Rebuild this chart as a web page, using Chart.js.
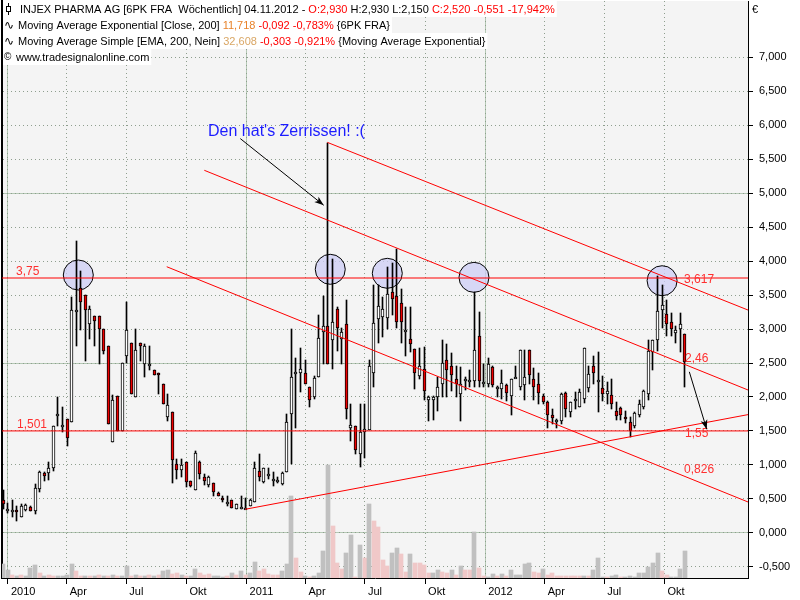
<!DOCTYPE html>
<html>
<head>
<meta charset="utf-8">
<script src="https://cdn.jsdelivr.net/npm/chart.js@4.4.0/dist/chart.umd.min.js"></script>
<style>
  html, body { margin: 0; padding: 0; background: #fff; overflow: hidden; }
  canvas { display: block; }
</style>
</head>
<body>
<canvas id="chart" width="800" height="600"></canvas>
<script>
// weekly candles, first week ends 27.12.2009, last week 04.11.2012
const opens = [0.48,0.36,0.34,0.34,0.24,0.34,0.38,0.33,0.64,0.88, 0.88,0.96,1.75,1.59,1.67,1.63,3.28,3.61,3.50,3.07,
  3.19,3.19,3.00,2.75,1.34,2.02,1.50,2.60,2.79,2.00, 2.79,2.49,2.49,2.40,2.35,2.19,1.71,1.78,1.02,0.93,
  1.05,0.76,0.63,1.05,0.83,0.70,0.74,0.59,0.51,0.45, 0.48,0.35,0.38,0.37,0.40,0.46,0.91,0.75,0.87,0.79,
  0.78,0.72,0.89,1.75,2.37,2.35,2.35,2.14,2.00,2.30, 2.95,3.05,2.84,3.29,2.85,3.08,1.54,1.58,1.16,1.48,
  1.51,2.35,3.15,3.18,3.16,3.55,3.49,3.38,2.99,2.85, 2.71,2.31,2.41,1.96,1.96,2.00,2.19,2.54,2.45,2.27,
  2.04,2.27,2.25,2.24,2.90,2.22,2.19,2.44,2.15,2.12, 2.17,2.02,2.29,2.15,2.17,2.69,2.27,2.19,2.02,1.93,
  1.73,1.66,1.65,2.06,1.78,1.97,1.86,1.97,2.13,2.45, 2.25,2.13,2.04,2.03,1.80,1.84,1.71,1.63,1.58,1.73,
  1.85,2.04,2.66,2.84,3.28,3.22,3.10,2.94,3.00,2.93];
const highs = [0.63,0.44,0.49,0.40,0.42,0.42,0.39,0.72,0.91,0.89, 1.04,1.58,2.00,1.85,1.67,3.47,4.30,3.86,3.50,3.34,
  3.19,3.19,3.00,2.75,2.03,2.02,2.50,3.40,2.79,3.00, 2.80,2.78,2.75,2.40,2.36,2.19,2.04,1.78,1.09,1.09,
  1.05,0.76,1.20,1.06,0.87,0.84,0.74,0.61,0.55,0.55, 0.49,0.43,0.55,0.52,0.50,1.04,1.16,0.96,0.95,0.89,
  0.83,0.89,1.75,3.00,2.58,2.72,2.54,2.14,2.31,3.21, 3.48,5.74,4.03,3.33,3.01,3.42,1.89,1.58,1.89,1.89,
  2.54,3.64,3.64,3.47,3.91,3.97,4.18,3.59,3.32,3.33, 2.71,2.72,2.73,2.01,2.01,2.29,2.84,2.78,2.64,2.45,
  2.44,2.29,2.39,3.55,3.25,2.49,2.58,2.45,2.16,2.39, 2.19,2.26,2.46,2.69,2.69,2.69,2.43,2.36,2.04,1.94,
  1.82,1.68,2.06,2.07,1.92,2.07,2.12,2.72,2.45,2.61, 2.66,2.31,2.22,2.27,1.93,1.86,1.79,1.70,1.78,1.96,
  2.10,2.84,2.84,3.78,3.64,3.42,3.23,3.05,3.23,2.93];
const lows = [0.35,0.30,0.23,0.18,0.23,0.33,0.32,0.28,0.60,0.77, 0.78,0.91,1.58,1.48,1.28,1.63,2.75,2.99,2.53,2.85,
  2.75,2.49,2.63,1.60,1.34,1.50,1.50,2.50,2.04,2.00, 2.53,2.29,2.39,2.32,2.04,1.89,1.65,0.74,0.79,0.82,
  0.68,0.68,0.63,0.79,0.70,0.68,0.55,0.54,0.45,0.40, 0.37,0.35,0.36,0.35,0.39,0.46,0.77,0.73,0.79,0.69,
  0.73,0.71,0.89,1.02,1.54,2.08,2.19,1.85,1.97,2.30, 2.49,2.49,2.41,2.68,2.49,1.68,1.36,1.16,0.97,1.11,
  1.51,2.14,2.80,2.88,3.00,3.20,3.02,2.79,2.60,2.66, 2.12,2.26,1.95,1.65,1.66,1.80,2.00,2.00,2.09,2.00,
  1.65,2.10,2.14,2.14,2.14,2.14,2.14,2.14,2.00,1.97, 1.94,1.73,2.28,2.10,1.96,2.19,1.96,1.90,1.89,1.54,
  1.60,1.55,1.60,1.71,1.71,1.82,1.85,1.91,2.07,2.19, 1.78,1.94,1.90,1.82,1.66,1.66,1.62,1.41,1.55,1.71,
  1.82,1.95,2.39,2.68,3.02,2.89,2.90,2.79,2.66,2.15];
const closes = [0.43,0.36,0.34,0.31,0.40,0.41,0.33,0.66,0.89,0.84, 0.96,1.57,1.75,1.59,1.40,3.28,3.28,3.39,3.28,3.29,
  3.12,3.00,2.68,1.60,1.95,1.50,2.50,2.99,2.04,2.69, 2.75,2.75,2.49,2.32,2.32,1.90,1.88,1.07,0.93,1.00,
  0.75,0.69,1.18,0.87,0.76,0.83,0.60,0.55,0.48,0.45, 0.37,0.43,0.38,0.37,0.48,0.96,0.83,0.96,0.87,0.79,
  0.78,0.88,1.63,2.29,2.37,2.41,2.19,1.95,2.28,2.87, 3.05,2.49,3.10,3.01,2.96,1.82,1.59,1.22,1.48,1.53,
  2.45,3.09,3.34,3.29,3.51,3.44,3.11,3.10,2.99,2.78, 2.36,2.46,2.09,2.00,2.00,2.15,2.50,2.40,2.32,2.19,
  2.19,2.27,2.25,2.69,2.24,2.22,2.49,2.17,2.15,2.21, 2.06,2.26,2.29,2.69,2.29,2.32,2.14,2.06,1.92,1.74,
  1.69,1.66,2.04,1.82,1.92,1.97,2.08,2.72,2.34,2.35, 2.25,2.04,2.09,1.90,1.72,1.74,1.68,1.50,1.77,1.90,
  2.09,2.68,2.84,3.27,3.36,3.07,3.00,2.99,3.08,2.52];
// volume pane (relative units) and bar tone: g = grey, p = pink
const volumes = [14,8,3,2,3,2,10,13,5,2, 3,2,2,2,3,14,7,2,2,2, 2,3,2,2,3,2,2,12,2,3,
  2,2,3,2,3,7,8,4,5,3, 2,2,9,5,3,4,2,2,1,2, 5,3,7,3,5,16,7,9,4,3,
  3,7,14,82,20,6,2,1,2,5, 27,113,52,15,9,25,43,1,33,20, 74,57,51,18,12,25,30,24,6,24,
  15,15,13,5,5,8,6,5,8,3, 12,8,8,46,10,2,1,4,2,4, 2,8,3,3,14,15,6,5,9,3,
  5,2,2,2,2,2,2,2,2,8, 20,1,1,2,3,1,1,2,1,5, 5,11,15,25,7,3,1,1,9,27];
const volumeTone = ('ggpgpgggpg' + 'ppggggppgp' + 'gpgpgpggpg' + 'pgpgpggppg' + 'pggpppgggp' +
  'gpgpggpppp' + 'pgggppgpgg' + 'ggpppggpgp' + 'gppppggppg' + 'ppppggppgp' + 'gppgppggpg' +
  'pgggggppgp' + 'pppppppgpg' + 'ggpggpgggg' + 'ggggppgggg').split('');

// quarter ticks of the time axis
const tickMonths = [[2010,0],[2010,3],[2010,6],[2010,9],[2011,0],[2011,3],[2011,6],[2011,9],[2012,0],[2012,3],[2012,6],[2012,9]];
const monthNames = ['2010','Apr','Jul','Okt'];
const firstWeek = Date.UTC(2009, 11, 27);
const tickPos = tickMonths.map(([yr, m]) => (Date.UTC(yr, m, 1) - firstWeek) / 864e5 / 7 + 0.35);
const tickLabels = tickMonths.map(([yr, m]) => m === 0 ? String(yr) : monthNames[m / 3]);

const priceTicks = [];
for (let v = -0.5; v <= 7; v += 0.5) priceTicks.push(v);

// drawn trend lines [week, price]
const resistance = 3.75;
const supportLevel = 1.501;
const upperChannel = [[70.86, 5.745], [162.77, 3.279]];
const midChannel = [[43.98, 5.334], [162.77, 2.103]];
const lowerChannel = [[35.77, 3.916], [162.77, 0.456]];
const risingLine = [[52.94, 0.349], [162.77, 1.741]];
// marked tops
const circleTops = [[16.45, 3.794], [71.5, 3.878], [83.96, 3.819], [102.9, 3.76], [144.0, 3.71]];

const X_MIN = -0.22, X_MAX = 162.77;
const Y_MIN = -0.662, Y_MAX = 7.824;

const lineLabels = [
  { text: '3,75', x: 2.84, y: 3.85 },
  { text: '1,501', x: 3.06, y: 1.60 },
  { text: '3,617', x: 148.8, y: 3.72 },
  { text: '2,46', x: 149.0, y: 2.57 },
  { text: '1,55', x: 149.0, y: 1.46 },
  { text: '0,826', x: 148.8, y: 0.93 }
];
const comment = { text: "Den hat's Zerrissen! :(", x: 44.8, y: 5.91 };
const arrows = [[[51.85, 5.80], [70.07, 4.82]], [[149.95, 2.37], [153.75, 1.525]]];

const RED = '#ff0000';
const FONT = '"Liberation Sans", Arial, sans-serif';
const DOTS = '#8e9e8e';
Chart.defaults.font.family = FONT;
Chart.defaults.font.size = 11;
Chart.defaults.color = '#000';

const idx = opens.map((_, i) => i);
const seg = pts => pts.map(([x, y]) => ({ x, y }));

const zeroPad = s => { s.paddingTop = 0; s.paddingBottom = 0; s.paddingLeft = 0; s.paddingRight = 0; };

const backdrop = {
  id: 'backdrop',
  beforeDraw(chart) {
    const { ctx, chartArea: a } = chart;
    ctx.save();
    ctx.fillStyle = '#fff';
    ctx.fillRect(0, 0, chart.width, chart.height);
    ctx.fillStyle = '#f4f4f4';
    ctx.fillRect(a.left, a.top, a.right - a.left, a.bottom - a.top);
    ctx.restore();
  }
};

// snap bar edges to whole pixels so the candles stay crisp
const snapBars = {
  id: 'snapBars',
  afterDatasetsUpdate(chart) {
    chart.data.datasets.forEach((ds, i) => {
      const meta = chart.getDatasetMeta(i);
      if (meta.type !== 'bar') return;
      meta.data.forEach(el => {
        const w = Math.round(el.width);
        el.width = w;
        el.x = w % 2 ? Math.floor(el.x) + 0.5 : Math.round(el.x);
        el.y = Math.round(el.y);
        el.base = Math.round(el.base);
      });
    });
  }
};

function drawArrow(ctx, x1, y1, x2, y2) {
  const ang = Math.atan2(y2 - y1, x2 - x1);
  ctx.beginPath();
  ctx.moveTo(x1, y1);
  ctx.lineTo(x2, y2);
  ctx.stroke();
  ctx.beginPath();
  ctx.moveTo(x2, y2);
  ctx.lineTo(x2 - 10 * Math.cos(ang - 0.35), y2 - 10 * Math.sin(ang - 0.35));
  ctx.lineTo(x2 - 7 * Math.cos(ang), y2 - 7 * Math.sin(ang));
  ctx.lineTo(x2 - 10 * Math.cos(ang + 0.35), y2 - 10 * Math.sin(ang + 0.35));
  ctx.closePath();
  ctx.fill();
}

const notes = {
  id: 'notes',
  afterDatasetsDraw(chart) {
    const { ctx, scales: { x, y } } = chart;
    ctx.save();
    ctx.textBaseline = 'middle';
    ctx.font = '12px ' + FONT;
    ctx.fillStyle = '#ff3030';
    lineLabels.forEach(l => ctx.fillText(l.text, x.getPixelForValue(l.x), y.getPixelForValue(l.y)));
    ctx.font = '16px ' + FONT;
    ctx.fillStyle = '#1c1cff';
    ctx.fillText(comment.text, x.getPixelForValue(comment.x), y.getPixelForValue(comment.y));
    ctx.strokeStyle = '#000';
    ctx.fillStyle = '#000';
    ctx.lineWidth = 1;
    arrows.forEach(([a, b]) => drawArrow(ctx, x.getPixelForValue(a[0]), y.getPixelForValue(a[1]),
      x.getPixelForValue(b[0]), y.getPixelForValue(b[1])));
    ctx.restore();
  }
};

const headerRows = [
  [['INJEX PHARMA AG [6PK FRA  Wöchentlich] 04.11.2012 - ', '#000'], ['O:2,930', RED], [' H:2,930 L:2,150 ', '#000'], ['C:2,520 -0,551 -17,942%', RED]],
  [['Moving Average Exponential [Close, 200] ', '#000'], ['11,718', '#e8822a'], [' -0,092 -0,783%', RED], [' {6PK FRA}', '#000']],
  [['Moving Average Simple [EMA, 200, Nein] ', '#000'], ['32,608', '#d9a664'], [' -0,303 -0,921%', RED], [' {Moving Average Exponential}', '#000']],
  [['www.tradesignalonline.com', '#000']]
];

const header = {
  id: 'header',
  afterDraw(chart) {
    const { ctx } = chart;
    ctx.save();
    ctx.font = '11px ' + FONT;
    ctx.textBaseline = 'alphabetic';
    const starts = [20, 18, 18, 16];
    headerRows.forEach((row, r) => {
      const top = 1 + r * 16;
      let w = starts[r];
      row.forEach(([t]) => { w += ctx.measureText(t).width; });
      ctx.fillStyle = '#fff';
      ctx.fillRect(3, top, w - 1, 16);
      let xPos = starts[r];
      row.forEach(([t, c]) => {
        ctx.fillStyle = c;
        ctx.fillText(t, xPos, top + 12);
        xPos += ctx.measureText(t).width;
      });
    });
    // row icons
    ctx.strokeStyle = '#000';
    ctx.lineWidth = 1;
    ctx.strokeRect(6.5, 6.5, 4, 5);
    ctx.beginPath();
    ctx.moveTo(8.5, 3); ctx.lineTo(8.5, 6.5);
    ctx.moveTo(8.5, 11.5); ctx.lineTo(8.5, 15);
    ctx.stroke();
    ctx.fillStyle = '#000';
    ctx.font = '12px "DejaVu Sans", sans-serif';
    ctx.fillText('\u223F', 4, 29);
    ctx.fillText('\u223F', 4, 45);
    ctx.font = '10px ' + FONT;
    ctx.fillText('\u00A9', 4, 60);
    ctx.font = '11px ' + FONT;
    ctx.fillText('\u20AC', 752, 13);
    ctx.restore();
  }
};

new Chart(document.getElementById('chart'), {
  type: 'bar',
  data: {
    datasets: [
      {
        type: 'line', order: 1, xAxisID: 'x', yAxisID: 'y',
        data: seg([[X_MIN, resistance], [X_MAX, resistance]]),
        borderColor: RED, borderWidth: 1, pointRadius: 0
      },
      {
        type: 'line', order: 1, xAxisID: 'x', yAxisID: 'y',
        data: seg([[X_MIN, supportLevel], [X_MAX, supportLevel]]),
        borderColor: RED, borderWidth: 1, pointRadius: 0
      },
      ...[upperChannel, midChannel, lowerChannel, risingLine].map(l => ({
        type: 'line', order: 1, xAxisID: 'x', yAxisID: 'y',
        data: seg(l), borderColor: RED, borderWidth: 1, pointRadius: 0
      })),
      {
        label: 'body', order: 4, xAxisID: 'x', yAxisID: 'y',
        data: idx.map(i => ({ x: i, y: [Math.min(opens[i], closes[i]), Math.max(opens[i], closes[i])] })),
        backgroundColor: idx.map(i => closes[i] >= opens[i] ? '#ffffff' : '#ee0000'),
        borderColor: '#000', borderWidth: 1, borderSkipped: false,
        barThickness: 3, maxBarThickness: 3, minBarLength: 2, grouped: false
      },
      {
        label: 'wick', order: 5, xAxisID: 'x', yAxisID: 'y',
        data: idx.map(i => ({ x: i, y: [lows[i], highs[i]] })),
        backgroundColor: '#000', borderWidth: 0,
        barThickness: 1, maxBarThickness: 1, grouped: false
      },
      {
        type: 'scatter', order: 6, xAxisID: 'x', yAxisID: 'y',
        data: seg(circleTops),
        pointRadius: 15, pointHoverRadius: 15,
        backgroundColor: 'rgba(205,205,245,0.75)', borderColor: '#000', borderWidth: 1
      },
      {
        label: 'volume', order: 10, xAxisID: 'x', yAxisID: 'yv',
        data: idx.map(i => ({ x: i, y: volumes[i] })),
        backgroundColor: idx.map(i => volumeTone[i] === 'g' ? '#c0c0c0' : '#f0c8c8'),
        borderWidth: 0, barThickness: 4, maxBarThickness: 4, grouped: false
      }
    ]
  },
  options: {
    responsive: false,
    devicePixelRatio: 1,
    animation: false,
    events: [],
    layout: { autoPadding: false, padding: { left: 2, top: 1, right: 0, bottom: 0 } },
    plugins: { legend: { display: false }, tooltip: { enabled: false } },
    scales: {
      x: {
        type: 'linear', position: 'bottom', min: X_MIN, max: X_MAX, offset: false,
        afterBuildTicks: s => { s.ticks = tickPos.map(v => ({ value: v })); },
        afterFit: s => { s.height = 22; zeroPad(s); },
        ticks: {
          autoSkip: false, maxRotation: 0, align: 'start', padding: 1,
          callback: (v, i) => ' ' + tickLabels[i]
        },
        grid: {
          offset: false,
          color: c => c.index !== undefined && /^\d{4}$/.test(tickLabels[c.index]) ? '#b4c8b4' : 'transparent',
          tickColor: '#000', tickLength: 6
        },
        border: { color: '#000', width: 1 }
      },
      xq: {
        type: 'linear', position: 'bottom', min: X_MIN, max: X_MAX, offset: false,
        afterBuildTicks: s => { s.ticks = tickPos.map(v => ({ value: v })); },
        afterFit: s => { s.height = 0; zeroPad(s); },
        ticks: { display: false },
        grid: { offset: false, color: DOTS, lineWidth: 1, drawTicks: false },
        border: { display: false, dash: [1, 3] }
      },
      y: {
        type: 'linear', position: 'right', min: Y_MIN, max: Y_MAX,
        afterBuildTicks: s => { s.ticks = priceTicks.map(v => ({ value: v })); },
        afterFit: s => { s.width = 52; zeroPad(s); },
        ticks: { padding: 6, callback: v => v.toFixed(3).replace('.', ',') },
        grid: {
          color: c => c.tick && [0, 2.5, 5].includes(c.tick.value) ? '#b4c8b4' : 'transparent',
          tickColor: '#000', tickLength: 5
        },
        border: { color: '#000', width: 1 }
      },
      yq: {
        type: 'linear', position: 'left', min: Y_MIN, max: Y_MAX,
        afterBuildTicks: s => { s.ticks = priceTicks.map(v => ({ value: v })); },
        afterFit: s => { s.width = 0; zeroPad(s); },
        ticks: { display: false },
        grid: { color: DOTS, lineWidth: 1, drawTicks: false },
        border: { display: true, color: '#000', width: 2, dash: [1, 3] }
      },
      yv: { type: 'linear', display: false, min: 0, max: 577 }
    }
  },
  plugins: [backdrop, snapBars, notes, header]
});
</script>
</body>
</html>
